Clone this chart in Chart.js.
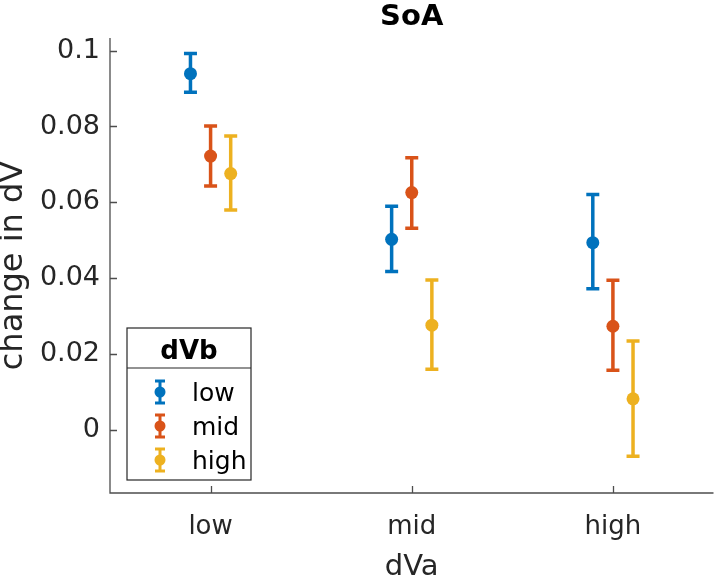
<!DOCTYPE html>
<html>
<head>
<meta charset="utf-8">
<script src="https://cdn.jsdelivr.net/npm/chart.js@4"></script>
<style>
  html, body { margin: 0; padding: 0; background: #fff; }
  #wrap { width: 720px; height: 582px; }
</style>
</head>
<body>
<div id="wrap"><canvas id="chart" width="720" height="582"></canvas></div>
<script>
// categories on the x axis (dVa) and series (dVb)
const categories = ['low', 'mid', 'high'];
const seriesNames = ['low', 'mid', 'high'];
const yTicks = [0, 0.02, 0.04, 0.06, 0.08, 0.1];

// means and error bar ends, one array per dVb level
const lowMean = [0.0939, 0.0503, 0.0494];
const lowUpper = [0.0992, 0.0590, 0.0621];
const lowLower = [0.0890, 0.0418, 0.0373];

const midMean = [0.0722, 0.0626, 0.0274];
const midUpper = [0.0801, 0.0718, 0.0395];
const midLower = [0.0643, 0.0532, 0.0158];

const highMean = [0.0676, 0.0277, 0.0083];
const highUpper = [0.0775, 0.0396, 0.0235];
const highLower = [0.0580, 0.0161, -0.0068];

const colors = ['#0072BD', '#D95319', '#EDB120'];
const FONT = '"DejaVu Sans", sans-serif';
const TEXT = '#262626';
const DODGE = 0.1;

const means = [lowMean, midMean, highMean];
const uppers = [lowUpper, midUpper, highUpper];
const lowers = [lowLower, midLower, highLower];

const datasets = seriesNames.map((name, s) => ({
    label: name,
    data: categories.map((c, i) => ({
        x: i + 1 + (s - 1) * DODGE,
        y: means[s][i],
        lo: lowers[s][i],
        hi: uppers[s][i]
    })),
    backgroundColor: colors[s],
    borderColor: colors[s],
    pointRadius: 6.5,
    pointHoverRadius: 6.5,
    borderWidth: 0,
    showLine: false
}));

const errorBars = {
    id: 'errorBars',
    beforeDatasetsDraw(chart) {
        const ctx = chart.ctx;
        const yScale = chart.scales.y;
        ctx.save();
        chart.data.datasets.forEach((ds, di) => {
            const meta = chart.getDatasetMeta(di);
            ctx.strokeStyle = ds.borderColor;
            ctx.lineWidth = 3.5;
            ctx.lineCap = 'butt';
            meta.data.forEach((pt, i) => {
                const d = ds.data[i];
                const x = pt.x;
                const yHi = yScale.getPixelForValue(d.hi);
                const yLo = yScale.getPixelForValue(d.lo);
                ctx.beginPath();
                ctx.moveTo(x, yHi);
                ctx.lineTo(x, yLo);
                ctx.moveTo(x - 6.5, yHi);
                ctx.lineTo(x + 6.5, yHi);
                ctx.moveTo(x - 6.5, yLo);
                ctx.lineTo(x + 6.5, yLo);
                ctx.stroke();
            });
        });
        ctx.restore();
    }
};

const axesAndLegend = {
    id: 'axesAndLegend',
    afterDraw(chart) {
        const ctx = chart.ctx;
        const area = chart.chartArea;
        const xs = chart.scales.x;
        const ys = chart.scales.y;
        ctx.save();

        // axis lines (box off) with inward ticks
        ctx.strokeStyle = '#4d4d4d';
        ctx.lineWidth = 1.3;
        ctx.beginPath();
        ctx.moveTo(area.left, area.top);
        ctx.lineTo(area.left, area.bottom);
        ctx.lineTo(area.right, area.bottom);
        yTicks.forEach(v => {
            const y = Math.round(ys.getPixelForValue(v)) + 0.5;
            ctx.moveTo(area.left, y);
            ctx.lineTo(area.left + 7, y);
        });
        categories.forEach((c, i) => {
            const x = Math.round(xs.getPixelForValue(i + 1)) + 0.5;
            ctx.moveTo(x, area.bottom);
            ctx.lineTo(x, area.bottom - 7);
        });
        ctx.stroke();

        // title
        ctx.fillStyle = '#000';
        ctx.font = 'bold 29px ' + FONT;
        ctx.textAlign = 'center';
        ctx.textBaseline = 'alphabetic';
        ctx.fillText('SoA', (area.left + area.right) / 2, 25);

        // legend
        const lx = 127, ly = 328, lw = 124, lh = 152;
        ctx.fillStyle = '#fff';
        ctx.fillRect(lx, ly, lw, lh);
        ctx.strokeStyle = '#262626';
        ctx.lineWidth = 1.2;
        ctx.strokeRect(lx, ly, lw, lh);
        ctx.beginPath();
        ctx.moveTo(lx, ly + 40);
        ctx.lineTo(lx + lw, ly + 40);
        ctx.stroke();
        ctx.fillStyle = '#000';
        ctx.font = 'bold 26px ' + FONT;
        ctx.fillText('dVb', lx + lw / 2, ly + 31);

        ctx.font = '25px ' + FONT;
        ctx.textAlign = 'left';
        seriesNames.forEach((name, s) => {
            const cy = ly + 64 + s * 34;
            const cx = lx + 33;
            ctx.strokeStyle = colors[s];
            ctx.lineWidth = 3;
            ctx.beginPath();
            ctx.moveTo(cx, cy - 11);
            ctx.lineTo(cx, cy + 11);
            ctx.moveTo(cx - 5, cy - 11);
            ctx.lineTo(cx + 5, cy - 11);
            ctx.moveTo(cx - 5, cy + 11);
            ctx.lineTo(cx + 5, cy + 11);
            ctx.stroke();
            ctx.fillStyle = colors[s];
            ctx.beginPath();
            ctx.arc(cx, cy, 5.5, 0, Math.PI * 2);
            ctx.fill();
            ctx.fillStyle = '#000';
            ctx.fillText(name, lx + 65, cy + 9);
        });
        ctx.restore();
    }
};

new Chart(document.getElementById('chart'), {
    type: 'scatter',
    data: { datasets },
    options: {
        responsive: false,
        animation: false,
        events: [],
        layout: { padding: { top: 38, right: 5, left: 0, bottom: 0 } },
        plugins: {
            legend: { display: false },
            tooltip: { enabled: false },
            title: { display: false }
        },
        scales: {
            x: {
                type: 'linear',
                min: 0.5,
                max: 3.5,
                afterBuildTicks: scale => {
                    scale.ticks = categories.map((c, i) => ({ value: i + 1 }));
                },
                afterFit: scale => { scale.height = 89; },
                grid: { display: false, drawTicks: false },
                border: { display: false },
                ticks: {
                    autoSkip: false,
                    maxRotation: 0,
                    padding: 19,
                    color: TEXT,
                    font: { family: FONT, size: 26 },
                    callback: v => categories[Math.round(v) - 1]
                },
                title: {
                    display: true,
                    text: 'dVa',
                    color: TEXT,
                    font: { family: FONT, size: 29, lineHeight: 1 },
                    padding: 0
                }
            },
            y: {
                min: -0.0165,
                max: 0.1033,
                afterBuildTicks: scale => {
                    scale.ticks = yTicks.map(v => ({ value: v }));
                },
                afterFit: scale => { scale.width = 110; },
                grid: { display: false, drawTicks: false },
                border: { display: false },
                ticks: {
                    padding: 10,
                    color: TEXT,
                    font: { family: FONT, size: 27 },
                    callback: v => String(v)
                },
                title: {
                    display: true,
                    text: 'change in dV',
                    color: TEXT,
                    font: { family: FONT, size: 32, lineHeight: 0.85 },
                    padding: 0
                }
            }
        }
    },
    plugins: [errorBars, axesAndLegend]
});
</script>
</body>
</html>
